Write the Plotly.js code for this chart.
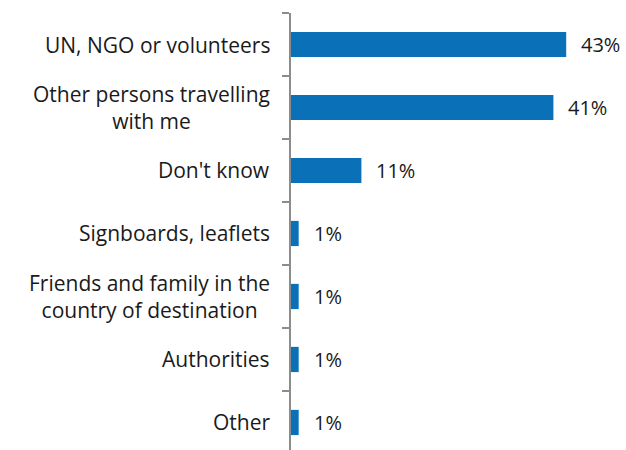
<!DOCTYPE html>
<html>
<head>
<meta charset="utf-8">
<script src="https://cdn.plot.ly/plotly-3.0.1.min.js"></script>
<style>
html,body{margin:0;padding:0;background:#fff;}
#chart{width:626px;height:450px;}
</style>
</head>
<body>
<div id="chart"></div>
<script>
const categories = ["UN, NGO or volunteers", "Other persons travelling with me", "Don't know", "Signboards, leaflets", "Friends and family in the country of destination", "Authorities", "Other"];
const categoryLabels = ["UN, NGO or volunteers", "Other persons travelling<br>with me", "Don't know", "Signboards, leaflets", "Friends and family in the<br>country of destination", "Authorities", "Other"];
const values = [43, 41, 11, 1.2, 1.2, 1.2, 1.2];
const valueLabels = ["43%", "41%", "11%", "1%", "1%", "1%", "1%"];

const FONT = "'Open Sans', sans-serif";
const TEXT = "#1a1a1a";

const trace = {
  type: "bar",
  orientation: "h",
  y: categories,
  x: values,
  width: 0.4,
  marker: {color: "#0a71b8"},
  hoverinfo: "none"
};

const annotations = [];
categories.forEach((c, i) => {
  annotations.push({
    xref: "paper", yref: "y", x: 0, y: c,
    xanchor: "right", yanchor: "middle",
    xshift: -19, align: "center",
    text: categoryLabels[i], showarrow: false,
    font: {family: FONT, size: 21, color: TEXT}
  });
  annotations.push({
    xref: "x", yref: "y", x: values[i], y: c,
    xanchor: "left", yanchor: "middle",
    xshift: 13, text: valueLabels[i], showarrow: false,
    font: {family: FONT, size: 20, color: TEXT}
  });
});

const layout = {
  width: 626, height: 450,
  margin: {l: 291, r: 15, t: 13, b: 0, pad: 0},
  paper_bgcolor: "#fff", plot_bgcolor: "#fff",
  showlegend: false,
  xaxis: {range: [0, 50], visible: false, fixedrange: true},
  yaxis: {
    type: "category",
    range: [6.437, -0.5],
    showticklabels: false,
    tickson: "boundaries",
    ticks: "outside", ticklen: 7, tickwidth: 1.5, tickcolor: "#8c8c8c",
    showline: true, linecolor: "#8c8c8c", linewidth: 2,
    showgrid: false, zeroline: false, fixedrange: true
  },
  annotations: annotations,
  font: {family: FONT, color: TEXT}
};

Plotly.newPlot("chart", [trace], layout, {displayModeBar: false, staticPlot: true});
</script>
</body>
</html>
